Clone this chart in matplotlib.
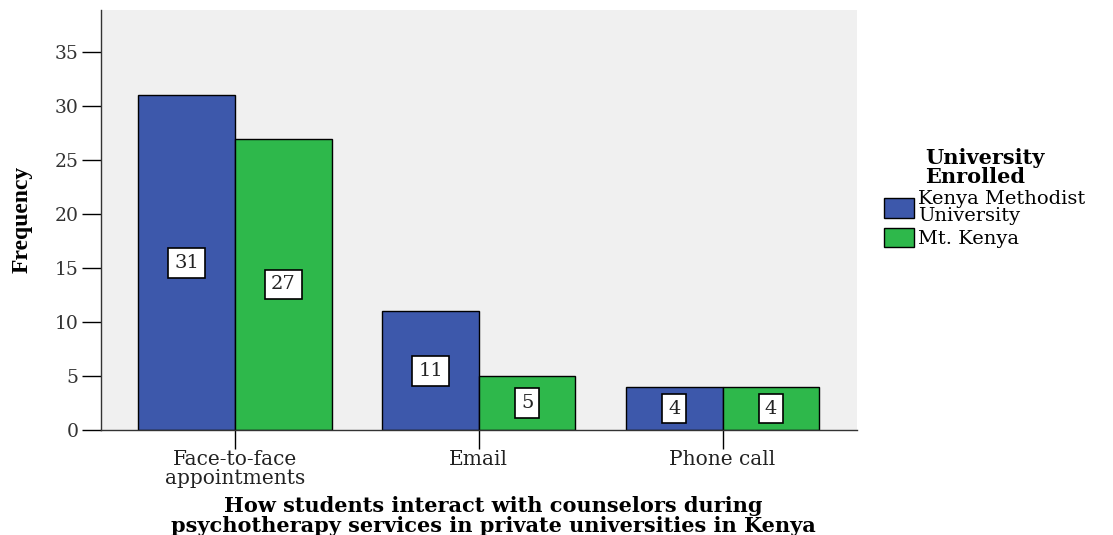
import matplotlib
matplotlib.use("Agg")
import matplotlib.pyplot as plt
import numpy as np
from matplotlib.patches import Patch

categories = ["Face-to-face\nappointments", "Email", "Phone call"]
kmu_counts = [31, 11, 4]
mtk_counts = [27, 5, 4]
series_names = ["Kenya Methodist\nUniversity", "Mt. Kenya"]
y_ticks = [0, 5, 10, 15, 20, 25, 30, 35]

blue = "#3d58ab"
green = "#2eb84b"
font = "DejaVu Serif"

fig = plt.figure(figsize=(11.13, 5.35), dpi=100)
ax = fig.add_axes([0.0907, 0.196, 0.679, 0.785])
ax.set_facecolor("#f0f0f0")

x = np.arange(len(categories))
w = 0.396
bars_a = ax.bar(x - w / 2, kmu_counts, w, color=blue, edgecolor="black", linewidth=1)
bars_b = ax.bar(x + w / 2, mtk_counts, w, color=green, edgecolor="black", linewidth=1)

for bars, vals in ((bars_a, kmu_counts), (bars_b, mtk_counts)):
    for b, v in zip(bars, vals):
        ax.text(b.get_x() + b.get_width() / 2, v / 2, str(v), ha="center", va="center",
                fontsize=14, family=font, color="#222222",
                bbox=dict(boxstyle="square,pad=0.3", fc="white", ec="black", lw=1.2))

ax.set_xlim(-0.55, 2.55)
ax.set_ylim(0, 38.9)
ax.set_yticks(y_ticks)
ax.set_yticklabels([str(t) for t in y_ticks], family=font, fontsize=13.5, color="#333333")
ax.set_xticks(x)
ax.set_xticklabels(categories, family=font, fontsize=14.5, linespacing=1.0, color="#222222")
ax.tick_params(axis="y", length=14, width=1, pad=2)
ax.tick_params(axis="x", length=14, width=1, pad=0)
for side in ("top", "right"):
    ax.spines[side].set_visible(False)
for side in ("left", "bottom"):
    ax.spines[side].set_color("#333333")
    ax.spines[side].set_linewidth(1)

fig.text(0.020, 0.59, "Frequency", rotation=90, ha="center", va="center",
         family="Liberation Serif", fontsize=17, fontweight="bold")
fig.text(0.443, 0.036, "How students interact with counselors during\npsychotherapy services in private universities in Kenya",
         ha="center", va="center", family=font, fontsize=15, fontweight="bold", linespacing=1.0)

handles = [Patch(facecolor=blue, edgecolor="black"), Patch(facecolor=green, edgecolor="black")]
leg = fig.legend(handles, series_names, loc="center left", bbox_to_anchor=(0.7875, 0.63),
                 frameon=False, prop={"family": font, "size": 14},
                 title="University\nEnrolled",
                 title_fontproperties={"family": font, "size": 15, "weight": "bold"},
                 handlelength=1.55, handleheight=1.2, handletextpad=0.2, labelspacing=0.15,
                 borderaxespad=0)
leg._legend_box.align = "center"
leg.get_title().set_linespacing(0.95)
for t in leg.get_texts():
    t.set_linespacing(0.9)

fig.savefig("out.png", dpi=100)
